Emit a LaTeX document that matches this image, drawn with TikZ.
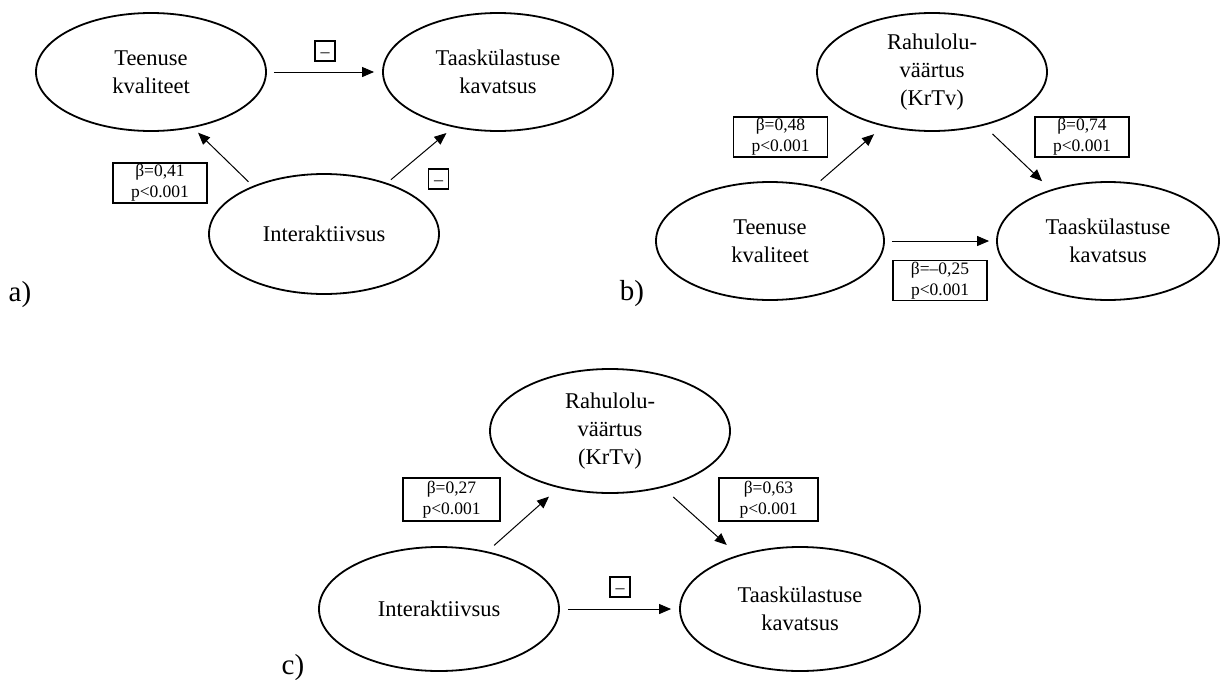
\documentclass[tikz,border=0pt]{standalone}
\usepackage{fontspec}
\setmainfont{Liberation Serif}
\usetikzlibrary{shapes.geometric,arrows.meta}
\begin{document}
\begin{tikzpicture}[x=1pt,y=-1pt,
  construct/.style={ellipse,draw,line width=1.8pt,minimum width=230pt,minimum height=118pt,
    inner sep=0pt,align=center,font=\fontsize{22.5}{28}\selectfont},
  wide/.style={minimum width=240pt,minimum height=124pt},
  coef/.style={draw,line width=1.6pt,minimum width=94pt,minimum height=40pt,inner sep=0pt,
    align=center,font=\fontsize{17.5}{21}\selectfont},
  nsbox/.style={draw,line width=1.6pt,minimum size=20pt,inner sep=0pt,
    text height=12pt,text depth=0pt,font=\fontsize{18}{18}\selectfont},
  effect/.style={-{Triangle[length=12pt,width=10pt]},line width=1pt},
  panel/.style={font=\fontsize{29}{29}\selectfont}]
\useasboundingbox (0,0) rectangle (1221,680);

% ---------- a) ----------
\node[construct] (tqA) at (151,72) {Teenuse\\kvaliteet};
\node[construct] (tkA) at (498,72) {Taaskülastuse\\kavatsus};
\node[construct,minimum height=120pt] (inA) at (324,234) {Interaktiivsus};
\draw[effect,shorten <=7pt,shorten >=8pt] (tqA.east) -- (tkA.west);
\draw[effect,shorten <=6pt,shorten >=7pt] (inA.146) -- (tqA.-53);
\draw[effect,shorten <=5pt,shorten >=9pt] (inA.39) -- (tkA.231);
\node[nsbox] (nsA1) at (325,51) {–};
\node[nsbox] (nsA2) at (438.5,179) {–};
\node[coef] (cA1) at (160,183) {β=0,41\\p<0.001};
\node[panel] (labA) at (20,295) {a)};

% ---------- b) ----------
\node[construct] (raB) at (932,72) {Rahulolu-\\väärtus\\(KrTv)};
\node[construct,minimum width=228pt] (tqB) at (770,241) {Teenuse\\kvaliteet};
\node[construct,minimum width=222pt] (tkB) at (1108,241) {Taaskülastuse\\kavatsus};
\draw[effect,shorten <=8pt,shorten >=12pt] (tqB.51) -- (raB.228);
\draw[effect,shorten <=12pt,shorten >=12pt] (raB.-46) -- (tkB.138);
\draw[effect,shorten <=7pt,shorten >=7pt] (tqB.east) -- (tkB.west);
\node[coef] (cB1) at (780.5,137) {β=0,48\\p<0.001};
\node[coef] (cB2) at (1082,137) {β=0,74\\p<0.001};
\node[coef] (cB3) at (940,280.5) {β=–0,25\\p<0.001};
\node[panel] (labB) at (632,294) {b)};

% ---------- c) ----------
\node[construct,wide] (raC) at (610,431) {Rahulolu-\\väärtus\\(KrTv)};
\node[construct,wide] (inC) at (439,609) {Interaktiivsus};
\node[construct,wide] (tkC) at (800,609) {Taaskülastuse\\kavatsus};
\draw[effect,shorten <=9pt,shorten >=13pt] (inC.50) -- (raC.228);
\draw[effect,shorten <=14pt,shorten >=15pt] (raC.-47) -- (tkC.139);
\draw[effect,shorten <=8pt,shorten >=8pt] (inC.east) -- (tkC.west);
\node[nsbox] (nsC) at (620,587) {–};
\node[coef,minimum width=97pt,minimum height=43pt] (cC1) at (451.5,499.5) {β=0,27\\p<0.001};
\node[coef,minimum width=99pt,minimum height=43pt] (cC2) at (768.5,499.5) {β=0,63\\p<0.001};
\node[panel] (labC) at (293,668) {c)};
\end{tikzpicture}
\end{document}
